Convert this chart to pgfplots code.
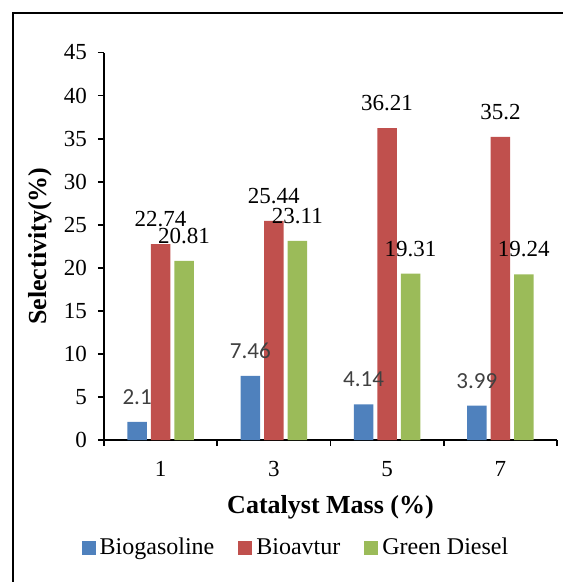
\documentclass[border=0pt]{standalone}
\usepackage{fontspec}
\setmainfont{Liberation Serif}
\newfontfamily\calibri{Carlito}
\usepackage{pgfplots}
\pgfplotsset{compat=1.18}
\definecolor{cblue}{HTML}{4F81BD}
\definecolor{cred}{HTML}{C0504D}
\definecolor{cgreen}{HTML}{9BBB59}
\definecolor{lblgray}{HTML}{404040}
\begin{document}
\begin{tikzpicture}
\useasboundingbox (-52pt,-71pt) rectangle (229pt,220pt);
\begin{axis}[
  at={(0,0)}, anchor=south west,
  scale only axis, width=226.5pt, height=193.75pt,
  ybar, bar width=9.75pt,
  xmin=-0.5, xmax=3.5, ymin=0, ymax=45,
  ytick={0,5,...,45},
  xtick={0,1,2,3}, xticklabels={1,3,5,7},
  minor xtick={-0.5,0.5,1.5,2.5,3.5},
  major x tick style={draw=none},
  tick align=outside, major tick length=3pt, minor tick length=3pt,
  xtick pos=bottom, ytick pos=left,
  axis lines*=left,
  axis line style={line width=0.9pt, black},
  every tick/.style={black, line width=0.9pt},
  minor tick style={black, line width=0.9pt},
  /pgf/number format/assume math mode=true,
  tick label style={font=\fontsize{11.5}{13}\selectfont},
  yticklabel style={xshift=-2pt},
  xticklabel style={yshift=-4pt},
  xlabel={Catalyst Mass (\%)},
  ylabel={Selectivity(\%)},
  label style={font=\fontsize{13}{15}\selectfont\bfseries},
  xlabel style={at={(axis description cs:0.5,-0.1729)}, anchor=center},
  ylabel style={at={(axis description cs:-0.1413,0.5)}, anchor=center},
  clip=false,
  nodes near coords,
  nodes near coords style={anchor=center, yshift=12.5pt, font=\fontsize{11.5}{13}\selectfont, /pgf/number format/assume math mode=true},
  point meta=explicit symbolic,
  legend columns=3,
  legend style={draw=none, at={(0.426,-0.2787)}, anchor=center, font=\fontsize{12}{14}\selectfont, /tikz/every even column/.append style={column sep=10pt}},
  legend image code/.code={\fill[#1] (0pt,-3.5pt) rectangle (7pt,3.5pt);},
]
\addplot[fill=cblue, draw=none, nodes near coords style={font=\calibri\fontsize{11.5}{13}\selectfont, text=lblgray}] coordinates {(0,2.1) [2.1] (1,7.46) [7.46] (2,4.14) [4.14] (3,3.99) [3.99]};
\addplot[fill=cred, draw=none] coordinates {(0,22.74) [22.74] (1,25.44) [25.44] (2,36.21) [36.21] (3,35.2) [35.2]};
\addplot[fill=cgreen, draw=none] coordinates {(0,20.81) [20.81] (1,23.11) [23.11] (2,19.31) [19.31] (3,19.24) [19.24]};
\legend{Biogasoline,Bioavtur,Green Diesel}
\end{axis}
\draw[line width=1pt] (-45.5pt,-90pt) -- (-45.5pt,213.5pt) -- (250pt,213.5pt);
\end{tikzpicture}
\end{document}
